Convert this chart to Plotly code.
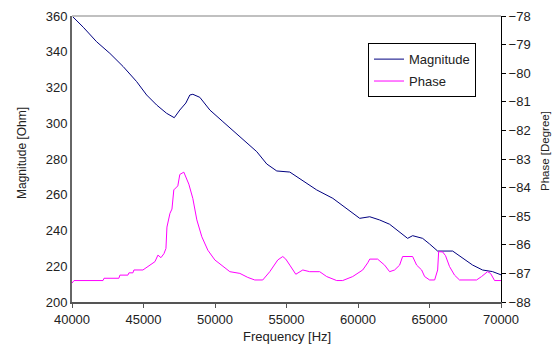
import plotly.graph_objects as go

# Magnitude [Ohm]
mag_freq = [40000, 40790, 41720, 42650, 43580, 44520, 45220, 45920, 46610, 47150,
            47540, 47960, 48240, 48450, 48940, 49640, 50550, 51740, 52920, 53620,
            54320, 55230, 55930, 57110, 58240, 59210, 60120, 60820, 61510, 62210,
            62420, 63120, 63470, 63820, 64520, 65000, 65570, 66620, 67310, 68010,
            68710, 69410, 70000]
mag_vals = [360, 353.7, 345.6, 339.1, 331.7, 323.3, 315.8, 310.2, 305.6, 303.1,
            307.4, 311.3, 315.8, 316.2, 314.5, 307.4, 300.9, 292.5, 284.1, 277.2,
            273.3, 272.7, 268.8, 262.7, 258.0, 252.4, 246.8, 247.7, 245.9, 243.5,
            242.1, 237.5, 235.6, 237.1, 235.6, 232.5, 228.5, 228.5, 224.5, 220.7,
            217.9, 217.0, 215.2]

# Phase [Degree]
ph_freq = [40000, 40140, 42170, 42240, 43280, 43350, 43910, 43980, 44260, 44330,
           44960, 45450, 45800, 46010, 46220, 46430, 46570, 46640, 46850, 46990,
           47120, 47400, 47540, 47820, 47960, 48170, 48450, 48730, 49080, 49500,
           49990, 50480, 51040, 51740, 52290, 52780, 53340, 53830, 54390, 54740,
           54950, 55230, 55650, 56140, 56620, 57320, 57810, 58510, 58930, 59630,
           60330, 60680, 60820, 61370, 61860, 62210, 62560, 62910, 63120, 63820,
           64100, 64450, 64660, 65010, 65360, 65570, 65640, 65920, 66120, 66400,
           66750, 67100, 68290, 68640, 69060, 69270, 69410, 69550, 70000]
ph_vals = [-87.34, -87.25, -87.25, -87.17, -87.17, -87.06, -87.06, -86.98, -86.98, -86.88,
           -86.88, -86.71, -86.59, -86.36, -86.45, -86.31, -86.13, -85.38, -84.90, -84.75,
           -84.08, -83.94, -83.54, -83.46, -83.63, -83.88, -84.38, -85.13, -85.72, -86.19,
           -86.53, -86.71, -86.94, -87.00, -87.14, -87.23, -87.23, -86.94, -86.53, -86.41,
           -86.50, -86.71, -87.03, -86.88, -86.94, -86.94, -87.11, -87.25, -87.25, -87.11,
           -86.88, -86.63, -86.50, -86.50, -86.71, -86.94, -86.88, -86.71, -86.41, -86.41,
           -86.71, -86.88, -87.11, -87.23, -87.23, -86.88, -86.24, -86.25, -86.38, -86.76,
           -87.06, -87.23, -87.23, -87.11, -86.94, -87.00, -87.11, -87.25, -87.25]

x_ticks = [40000, 45000, 50000, 55000, 60000, 65000, 70000]
mag_ticks = [200, 220, 240, 260, 280, 300, 320, 340, 360]
ph_ticks = [-88, -87, -86, -85, -84, -83, -82, -81, -80, -79, -78]

FONT = "Liberation Sans, Arial, sans-serif"

fig = go.Figure()
fig.add_trace(go.Scatter(x=mag_freq, y=mag_vals, name="Magnitude", mode="lines",
                         line=dict(color="#000080", width=1), legendgroup="a"))
fig.add_trace(go.Scatter(x=ph_freq, y=ph_vals, name="Phase", mode="lines",
                         line=dict(color="#ff00ff", width=1), yaxis="y2", legendgroup="b"))

fig.update_layout(
    width=552, height=348,
    margin=dict(l=72, r=51, t=16, b=46, autoexpand=False),
    paper_bgcolor="white", plot_bgcolor="white",
    font=dict(family=FONT, size=13, color="#222"),
    xaxis=dict(range=[40000, 70000], tickvals=x_ticks, ticktext=[str(v) for v in x_ticks],
               showgrid=False, zeroline=False, showline=True, linecolor="#555", linewidth=2,
               ticks="outside", ticklen=4, tickcolor="#555", tickfont=dict(size=13),
               automargin=False),
    yaxis=dict(range=[200, 360], tickvals=mag_ticks, showgrid=False, zeroline=False,
               showline=True, linecolor="#666", linewidth=2, ticks="", tickfont=dict(size=13),
               automargin=False),
    yaxis2=dict(range=[-88, -78], tickvals=ph_ticks, overlaying="y", side="right",
                showgrid=False, zeroline=False, showline=True, linecolor="#000", linewidth=1,
                ticks="outside", ticklen=4, tickcolor="#000", tickfont=dict(size=13),
                automargin=False),
    legend=dict(x=0.69, y=0.905, xanchor="left", yanchor="top",
                bordercolor="#000", borderwidth=1, bgcolor="white",
                font=dict(size=13), tracegroupgap=2, traceorder="grouped"),
    showlegend=True,
)
fig.add_shape(type="line", xref="paper", yref="paper", x0=0, x1=1, y0=1, y1=1,
              line=dict(color="#c0c0c0", width=2))

fig.add_annotation(text="Frequency [Hz]", xref="paper", yref="paper", x=0.5, y=-0.122,
                   xanchor="center", yanchor="middle", showarrow=False, font=dict(size=13))
fig.add_annotation(text="Magnitude [Ohm]", xref="paper", yref="paper", x=-0.1166, y=0.521,
                   xanchor="center", yanchor="middle", showarrow=False, textangle=-90,
                   font=dict(size=12))
fig.add_annotation(text="Phase [Degree]", xref="paper", yref="paper", x=1.1026, y=0.528,
                   xanchor="center", yanchor="middle", showarrow=False, textangle=-90,
                   font=dict(size=11.5))

fig.write_html("out.html")
